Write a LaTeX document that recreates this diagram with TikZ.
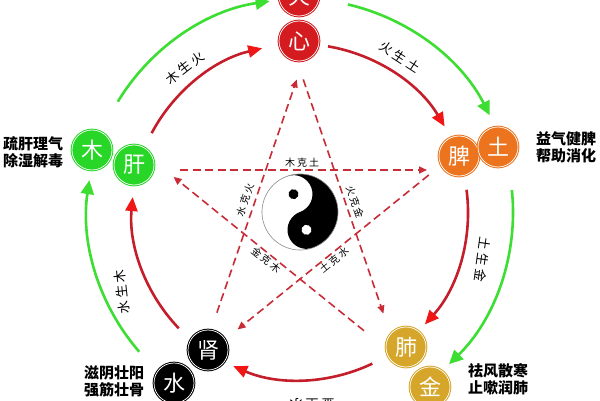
\documentclass[tikz,border=0pt]{standalone}
\usepackage{fontspec}
\newfontfamily\cjk{Noto Sans CJK SC}
\usetikzlibrary{arrows.meta}
\definecolor{firec}{RGB}{212,28,32}
\definecolor{woodc}{RGB}{40,214,40}
\definecolor{earthc}{RGB}{236,116,30}
\definecolor{metalc}{RGB}{214,166,42}
\definecolor{greenarc}{RGB}{60,222,50}
\definecolor{redarc}{RGB}{196,30,42}
\definecolor{redtip}{RGB}{240,22,22}
\definecolor{starred}{RGB}{200,44,54}
\newcommand{\gp}{\hspace{3pt}}
\newcommand{\kp}{\hspace{2pt}}
\begin{document}
\begin{tikzpicture}[x=1pt,y=1pt,
  elem/.style={circle,minimum size=40pt,inner sep=0pt,fill=#1,draw=#1,
    double=white,double distance=0.7pt,line width=1pt,text=white,
    font=\cjk\fontsize{22}{22}\selectfont},
  sidetext/.style={align=left,inner sep=0pt,font=\cjk\bfseries\fontsize{15}{17}\selectfont},
  arclabel/.style={inner sep=0pt,font=\cjk\fontsize{13}{13}\selectfont},
  kelabel/.style={inner sep=0pt,font=\cjk\fontsize{10}{10}\selectfont},
  redcyc/.style={line width=2.6pt,draw=redarc,-{Triangle[length=14pt,width=12pt,color=redtip,fill=redtip]}},
  greencyc/.style={line width=2.6pt,draw=greenarc,-{Triangle[length=14pt,width=13pt,color=greenarc,fill=greenarc]}},
  kecyc/.style={line width=1.6pt,draw=starred,dash pattern=on 8pt off 4.5pt,
    -{Triangle[length=8pt,width=7pt,color=starred,fill=starred]}}]
\useasboundingbox (0,0) rectangle (600,400);
\fill[white] (0,0) rectangle (600,400);
\coordinate (C) at (300,188);

% generating cycle (green, outer)
\draw[greencyc] ([shift={(148.8:213pt)}]C) arc[start angle=148.8,end angle=98.2,radius=213pt];
\draw[greencyc] ([shift={(77:213pt)}]C) arc[start angle=77,end angle=27,radius=213pt];
\draw[greencyc] ([shift={(5.9:213pt)}]C) arc[start angle=5.9,end angle=-45.6,radius=213pt];
\draw[greencyc] ([shift={(221:213pt)}]C) arc[start angle=221,end angle=171.4,radius=213pt];

% generating cycle (red, inner)
\draw[redcyc] ([shift={(152:168pt)}]C) arc[start angle=152,end angle=103,radius=168pt];
\draw[redcyc] ([shift={(80.4:168pt)}]C) arc[start angle=80.4,end angle=30.6,radius=168pt];
\draw[redcyc] ([shift={(7.6:168pt)}]C) arc[start angle=7.6,end angle=-42,radius=168pt];
\draw[redcyc] ([shift={(-64.5:168pt)}]C) arc[start angle=-64.5,end angle=-113.4,radius=168pt];
\draw[redcyc] ([shift={(223.8:168pt)}]C) arc[start angle=223.8,end angle=174.9,radius=168pt];

% arc labels
\node[arclabel,rotate=38] (l1) at (185,332) {木\gp 生\gp 火};
\node[arclabel,rotate=-33] (l2) at (400,343) {火\gp 生\gp 土};
\node[arclabel,rotate=-98] (l3) at (483,140) {土\gp 生\gp 金};
\node[arclabel,rotate=180] (l4) at (312,-4) {金\gp 生\gp 水};
\node[arclabel,rotate=96] (l5) at (122,108) {水\gp 生\gp 木};

% star (controlling cycle)
\coordinate (PT) at (300,330);
\coordinate (PL) at (165,230);
\coordinate (PR) at (435,230);
\coordinate (PBL) at (201,41);
\coordinate (PBR) at (399,41);
\draw[kecyc,shorten <=15pt,shorten >=8pt] (PL) -- (PR);
\draw[kecyc,shorten <=8pt,shorten >=47pt] (PR) -- (PBL);
\draw[kecyc,shorten <=49pt,shorten >=10pt] (PBL) -- (PT);
\draw[kecyc,shorten <=10pt,shorten >=48pt] (PT) -- (PBR);
\draw[kecyc,shorten <=45pt,shorten >=11pt] (PBR) -- (PL);

\node[kelabel] (k1) at (302,237) {木\kp 克\kp 土};
\node[kelabel,rotate=71] (k2) at (245,200) {水\kp 克\kp 火};
\node[kelabel,rotate=-71] (k3) at (355,198) {火\kp 克\kp 金};
\node[kelabel,rotate=-39] (k4) at (266,140) {金\kp 克\kp 木};
\node[kelabel,rotate=39] (k5) at (334,140) {土\kp 克\kp 水};

% yin-yang
\begin{scope}[shift={(300,188)},rotate=20]
  \fill[white] (0,0) circle (38pt);
  \fill[black] (0,38) arc[start angle=90,end angle=-90,radius=38pt]
     arc[start angle=270,end angle=90,radius=19pt]
     arc[start angle=-90,end angle=90,radius=19pt] -- cycle;
  \fill[black] (0,19) circle (5pt);
  \fill[white] (0,-19) circle (5pt);
  \draw[black!45,line width=0.6pt] (0,0) circle (38pt);
\end{scope}

% element nodes
\node[elem=firec] (huo) at (299,404) {火};
\node[elem=firec] (xin) at (299,359) {心};
\node[elem=woodc] (mu) at (92,250) {木};
\node[elem=woodc] (gan) at (134,235) {肝};
\node[elem=earthc] (pi) at (459,244) {脾};
\node[elem=earthc] (tu) at (498,253) {土};
\node[elem=black] (shen) at (208,50) {肾};
\node[elem=black] (shui) at (174,17) {水};
\node[elem=metalc] (fei) at (406,53) {肺};
\node[elem=metalc] (jin) at (430,13) {金};

% side texts
\node[sidetext] (t1) at (33,248) {疏肝理气\\除湿解毒};
\node[sidetext] (t2) at (566,253) {益气健脾\\帮助消化};
\node[sidetext] (t3) at (114,19) {滋阴壮阳\\强筋壮骨};
\node[sidetext] (t4) at (498,21) {祛风散寒\\止嗽润肺};
\end{tikzpicture}
\end{document}
